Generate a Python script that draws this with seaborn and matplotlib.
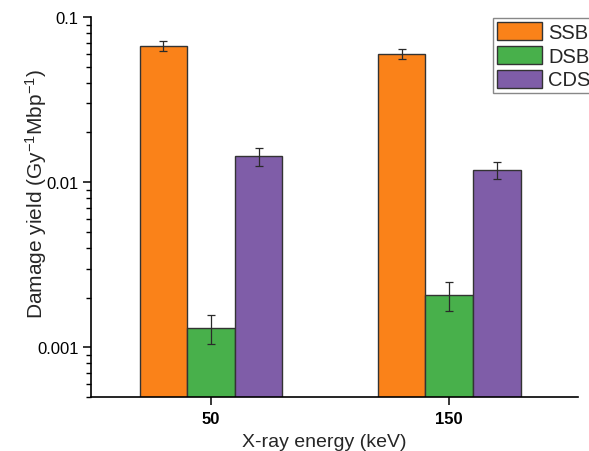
import numpy as np
import pandas as pd
import matplotlib.pyplot as plt
import seaborn as sns

# Damage yields (Gy^-1 Mbp^-1)
energies = ['50', '150']
damage_types = ['SSB', 'DSB', 'CDS']
ssb = [0.0672, 0.0598]
ssb_err = [0.0049, 0.0042]
dsb = [0.00131, 0.00208]
dsb_err = [0.00026, 0.00042]
cds = [0.0144, 0.0119]
cds_err = [0.0018, 0.0014]

colors = ['#FA8219', '#48B04B', '#7F5DA8']

# long-form table for seaborn
df = pd.DataFrame({
    'energy': energies * 3,
    'type': [t for t in damage_types for _ in energies],
    'yield': ssb + dsb + cds,
    'err': ssb_err + dsb_err + cds_err,
})

sns.set_theme(style='white')
plt.rcParams['font.family'] = ['Liberation Sans', 'DejaVu Sans']
plt.rcParams['mathtext.default'] = 'regular'

fig = plt.figure(figsize=(5.89, 4.52), dpi=100)
ax = fig.add_axes([0.1545, 0.1195, 0.8265, 0.8405])

sns.barplot(data=df, x='energy', y='yield', hue='type', order=energies,
            hue_order=damage_types, palette=colors, width=0.6, saturation=1,
            edgecolor='#333333', linewidth=1.0, errorbar=None, ax=ax)
ax.set_yscale('log')

# error bars at the centre of each bar
for i, t in enumerate(damage_types):
    sub = df[df['type'] == t].set_index('energy').loc[energies]
    cont = ax.containers[i]
    xs = [p.get_x() + p.get_width() / 2 for p in cont.patches]
    ax.errorbar(xs, sub['yield'], yerr=sub['err'], fmt='none',
                ecolor='#2a2a2a', elinewidth=0.9, capsize=2.8, capthick=0.9)

ax.set_ylim(5e-4, 0.1)
ax.set_xlim(-0.504, 1.54)
ax.set_yticks([0.001, 0.01, 0.1])
ax.set_yticklabels(['0.001', '0.01', '0.1'])

ax.set_xlabel('X-ray energy (keV)', fontsize=14)
ax.set_ylabel('Damage yield (Gy$^{-1}$Mbp$^{-1}$)', fontsize=15)
ax.xaxis.set_label_coords(0.48, -0.094)
ax.yaxis.set_label_coords(-0.087, 0.537)
for lab in ax.get_xticklabels():
    lab.set_fontweight('bold')

sns.despine(ax=ax)
for s in ['left', 'bottom']:
    ax.spines[s].set_color('black')
    ax.spines[s].set_linewidth(1.2)
ax.tick_params(axis='both', which='major', direction='out', length=6, width=1.1,
               color='black', labelsize=12, labelcolor='black', left=True, bottom=True)
ax.tick_params(axis='y', which='minor', direction='out', length=3.5, width=1.0,
               color='black', left=True)
ax.tick_params(axis='y', which='major', pad=3)
ax.tick_params(axis='x', which='major', pad=4)

handles, labels = ax.get_legend_handles_labels()
ax.legend(handles, labels, loc='upper left', bbox_to_anchor=(0.837, 0.957),
          bbox_transform=fig.transFigure, fontsize=14.5, frameon=True,
          fancybox=False, edgecolor='#888888', framealpha=1,
          handlelength=2.25, handleheight=1.0, labelspacing=0.18,
          handletextpad=0.3, borderpad=0.2, borderaxespad=0)

fig.savefig('out.png', dpi=100)
plt.close(fig)
